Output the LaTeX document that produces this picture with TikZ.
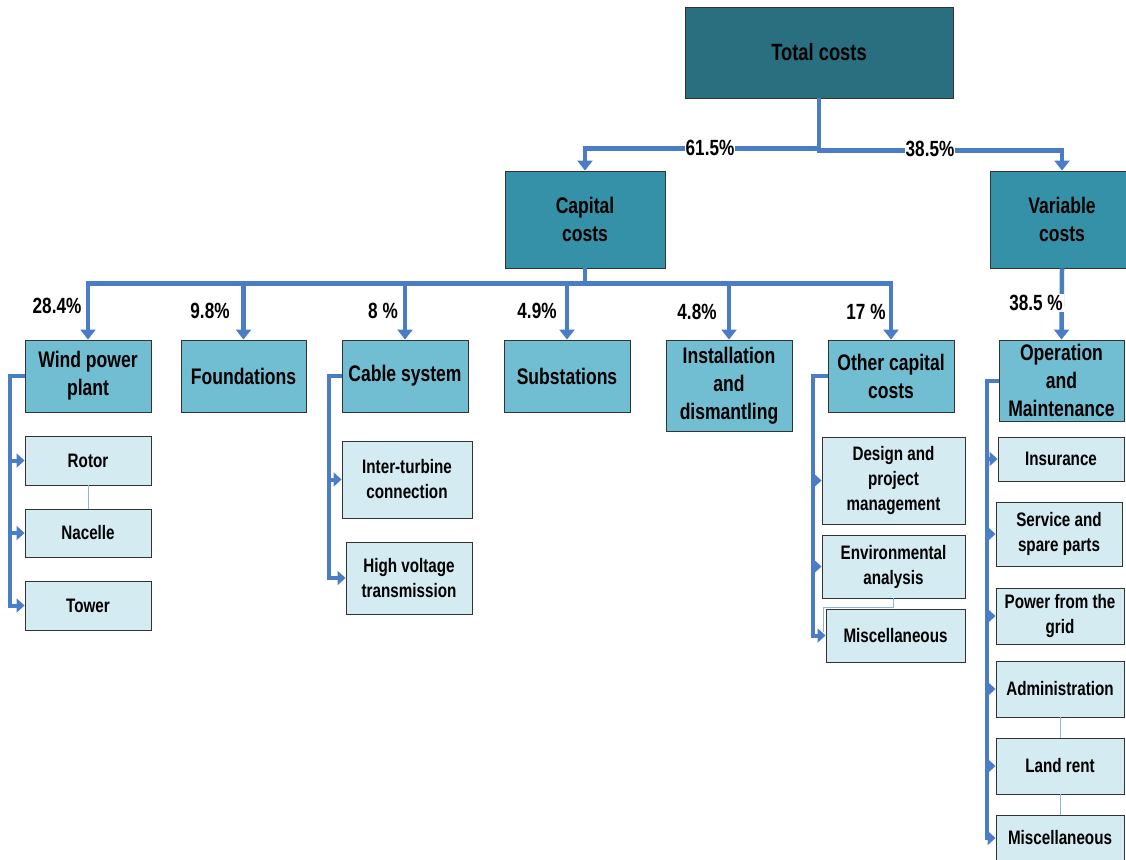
\documentclass[tikz,border=0pt]{standalone}
\usepackage{fontspec}
\setmainfont{Liberation Sans}[FakeStretch=0.78]
\usetikzlibrary{arrows.meta,calc}
\definecolor{ctop}{HTML}{296F7F}
\definecolor{cmid}{HTML}{3591A8}
\definecolor{clvtwo}{HTML}{71BED3}
\definecolor{cleaf}{HTML}{D3EBF1}
\definecolor{cline}{HTML}{4A7DC5}
\definecolor{cthin}{HTML}{8EB4E3}
\definecolor{bordergray}{HTML}{333333}
\begin{document}
\begin{tikzpicture}[x=1pt,y=-1pt,
 box/.style={draw=bordergray, line width=0.9pt, inner sep=0pt, align=center, font=\bfseries\fontsize{22.5}{28}\selectfont},
 topbox/.style={box, fill=ctop, font=\bfseries\fontsize{23.5}{28}\selectfont},
 midbox/.style={box, fill=cmid},
 lvtwo/.style={box, fill=clvtwo},
 leaf/.style={box, fill=cleaf, font=\bfseries\fontsize{19.5}{25}\selectfont},
 conn/.style={draw=cline, line width=4.5pt, -{Triangle[width=15pt,length=10pt]}},
 sideconn/.style={draw=cline, line width=4pt, -{Triangle[width=14pt,length=8pt]}},
 thinline/.style={draw=cthin, line width=1pt},
 pct/.style={font=\bfseries\fontsize{22}{26}\selectfont, inner sep=1pt},
]
\useasboundingbox (0,0) rectangle (1126,859);

% top levels
\node[topbox, minimum width=268, minimum height=91] (total) at (819,52.5) {Total costs};
\node[midbox, minimum width=160, minimum height=97] (cap) at (585,219.5) {Capital\\costs};
\node[midbox, minimum width=144, minimum height=97] (var) at (1062,219.5) {Variable\\costs};

% level 2
\node[lvtwo, minimum width=126, minimum height=72] (wind) at (88,376) {Wind power\\plant};
\node[lvtwo, minimum width=125, minimum height=72] (found) at (243.5,376) {Foundations};
\node[lvtwo, minimum width=126, minimum height=72] (cable) at (405,376) {Cable system};
\node[lvtwo, minimum width=126, minimum height=72] (subst) at (567,376) {Substations};
\node[lvtwo, minimum width=126, minimum height=91] (inst) at (729,385.5) {Installation\\and\\dismantling};
\node[lvtwo, minimum width=126, minimum height=72] (other) at (891,376) {Other capital\\costs};
\node[lvtwo, minimum width=125, minimum height=81] (om) at (1061.5,380.5) {Operation\\and\\Maintenance};

% level 3
\node[leaf, minimum width=126, minimum height=49] (rotor) at (88,460.5) {Rotor};
\node[leaf, minimum width=126, minimum height=48] (nacelle) at (88,533) {Nacelle};
\node[leaf, minimum width=126, minimum height=49] (tower) at (88,605.5) {Tower};
\node[leaf, minimum width=130, minimum height=77] (inter) at (407,479.5) {Inter-turbine\\connection};
\node[leaf, minimum width=126, minimum height=72] (hv) at (409,578) {High voltage\\transmission};
\node[leaf, minimum width=143, minimum height=87] (design) at (893.5,480.5) {Design and\\project\\management};
\node[leaf, minimum width=143, minimum height=63] (env) at (893.5,566.5) {Environmental\\analysis};
\node[leaf, minimum width=139, minimum height=53] (miscA) at (895.5,635.5) {Miscellaneous};
\node[leaf, minimum width=126, minimum height=44] (ins) at (1061,459) {Insurance};
\node[leaf, minimum width=126, minimum height=64] (serv) at (1059,534) {Service and\\spare parts};
\node[leaf, minimum width=128, minimum height=56] (power) at (1060,616) {Power from the\\grid};
\node[leaf, minimum width=128, minimum height=56] (admin) at (1060,689) {Administration};
\node[leaf, minimum width=128, minimum height=56] (land) at (1060,766) {Land rent};
\node[leaf, minimum width=128, minimum height=46] (miscB) at (1060,838) {Miscellaneous};

% thin links
\draw[thinline] (rotor.south) -- (nacelle.north);
\draw[thinline] (admin.south) -- (land.north);
\draw[thinline] (land.south) -- (miscB.north);
\draw[thinline] (env.south) -- ++(0,9) -| ([xshift=-2pt,yshift=4pt]miscA.west);

% main connectors
\draw[conn] (total.south) -- ++(0,50) -| (cap.north);
\draw[conn] (total.south) -- ++(0,52) -| (var.north);
\node[pct, fill=white] (p615) at (710,148) {61.5\%};
\node[pct, fill=white] (p385) at (930,149) {38.5\%};

\foreach \c in {wind,found,cable,subst,inst,other}
  \draw[conn] (cap.south) -- ++(0,15) -| (\c.north);

\draw[conn] (var.south) -- (om.north);
\node[pct, fill=white] (pom) at (1036,303) {38.5 \%};

\node[pct] (pwind) at (57,306) {28.4\%};
\node[pct] (pfound) at (210,311) {9.8\%};
\node[pct] (pcable) at (383,311) {8 \%};
\node[pct] (psubst) at (537,311) {4.9\%};
\node[pct] (pinst) at (697,312) {4.8\%};
\node[pct] (pother) at (866,312) {17 \%};

% side connectors
\foreach \c in {rotor,nacelle,tower}
  \draw[sideconn] (wind.west) -- ++(-15,0) |- (\c.west);
\foreach \c in {inter,hv}
  \draw[sideconn] (cable.west) -- ++(-13,0) |- (\c.west);
\foreach \c in {design,env,miscA}
  \draw[sideconn] (other.west) -- ++(-15,0) |- (\c.west);
\foreach \c in {ins,serv,power,admin,land,miscB}
  \draw[sideconn] (om.west) -- ++(-12,0) |- (\c.west);
\end{tikzpicture}
\end{document}
